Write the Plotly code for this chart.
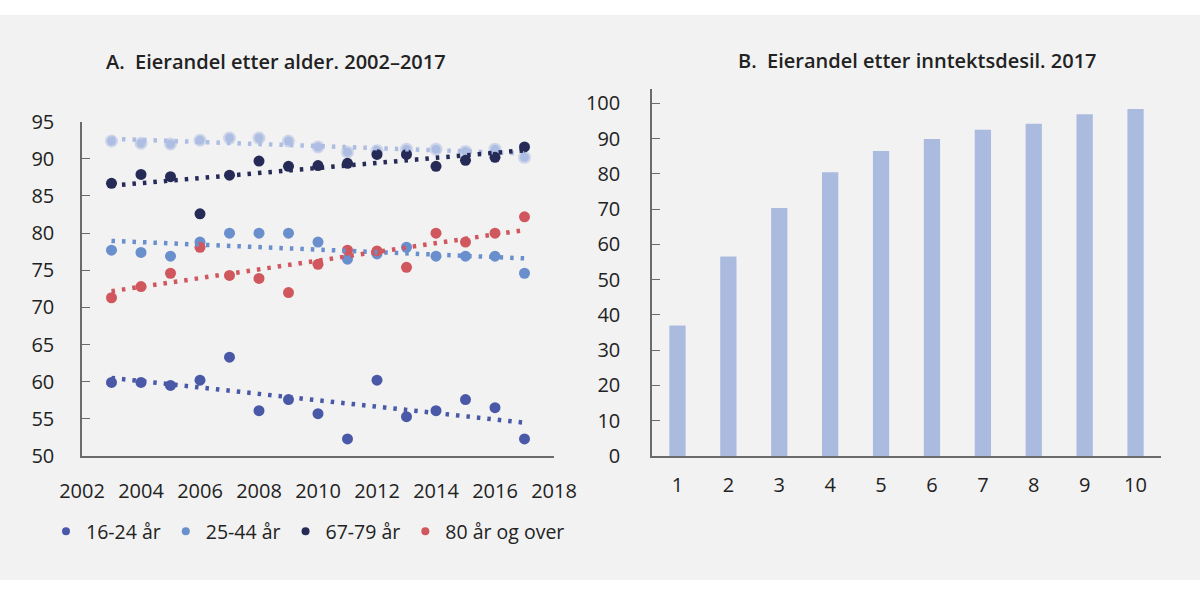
import numpy as np
import plotly.graph_objects as go

# Panel A: home-ownership share by age group, 2003-2017
years = list(range(2003, 2018))
age_16_24 = [59.9, 59.9, 59.5, 60.2, 63.3, 56.1, 57.6, 55.7, 52.3, 60.2, 55.3, 56.1, 57.6, 56.5, 52.3]
age_25_44 = [77.7, 77.4, 76.9, 78.8, 80.0, 80.0, 80.0, 78.8, 76.5, 77.2, 78.1, 76.9, 76.9, 76.9, 74.6]
age_45_66 = [92.4, 92.1, 92.0, 92.5, 92.8, 92.8, 92.4, 91.6, 90.9, 91.1, 91.3, 91.3, 91.0, 91.3, 90.2]
age_67_79 = [86.7, 87.9, 87.6, 82.6, 87.8, 89.7, 89.0, 89.1, 89.4, 90.6, 90.6, 89.0, 89.8, 90.2, 91.6]
age_80_up = [71.3, 72.8, 74.6, 78.1, 74.3, 73.9, 72.0, 75.8, 77.7, 77.6, 75.4, 80.0, 78.8, 80.0, 82.2]

# Panel B: home-ownership share by income decile, 2017
deciles = [str(d) for d in range(1, 11)]
decile_share = [37.0, 56.6, 70.3, 80.5, 86.5, 89.9, 92.5, 94.2, 96.9, 98.4]

BG = "#f2f2f2"
AXIS = "#6b6b6b"
TXT = "#222222"
FONT = "Open Sans"

series = [
    ("16-24 år", age_16_24, "#4a59a7", True),
    ("25-44 år", age_25_44, "#6a8fcd", True),
    ("45-66 år", age_45_66, "#aebde2", False),
    ("67-79 år", age_67_79, "#262a57", True),
    ("80 år og over", age_80_up, "#d0575d", True),
]

fig = go.Figure()

# data points
for name, vals, color, in_legend in series:
    if name == "45-66 år":
        marker = dict(size=9, color=color, line=dict(width=4, color="rgba(174,189,226,0.55)"))
    else:
        marker = dict(size=11, color=color, line=dict(width=0))
    fig.add_trace(go.Scatter(x=years, y=vals, mode="markers", marker=marker,
                             showlegend=False, xaxis="x", yaxis="y"))

# linear trend lines (dotted)
for name, vals, color, in_legend in series:
    k, m = np.polyfit(years, vals, 1)
    ends = [years[0], years[-1]]
    fig.add_trace(go.Scatter(x=ends, y=[k * x + m for x in ends], mode="lines",
                             line=dict(color=color, width=4.5, dash="3.5px,7px"),
                             showlegend=False, xaxis="x", yaxis="y"))

# legend entries (small dots)
for name, vals, color, in_legend in series:
    if in_legend:
        fig.add_trace(go.Scatter(x=[None], y=[None], mode="markers", name=name,
                                 marker=dict(size=8, color=color),
                                 xaxis="x", yaxis="y"))

fig.add_trace(go.Bar(x=deciles, y=decile_share, marker=dict(color="#abbbdf", line=dict(width=0)),
                     showlegend=False, xaxis="x2", yaxis="y2"))

tick_font = dict(family=FONT, size=20, color=TXT)

fig.update_layout(
    width=1200, height=595,
    margin=dict(l=0, r=0, t=0, b=0, autoexpand=False),
    paper_bgcolor=BG, plot_bgcolor=BG,
    font=dict(family=FONT, size=20, color=TXT),
    bargap=0.68,
    xaxis=dict(domain=[82 / 1200, 554 / 1200], range=[2002, 2018], dtick=2,
               showline=True, linecolor=AXIS, linewidth=1.5, showgrid=False,
               zeroline=False, ticks="", tickfont=tick_font, ticklabelstandoff=16,
               automargin=False),
    yaxis=dict(domain=[1 - 456 / 595, 1 - 121.7 / 595], range=[50, 95], dtick=5,
               showline=True, linecolor=AXIS, linewidth=1.5, showgrid=False,
               zeroline=False, ticks="inside", ticklen=8, tickcolor=AXIS,
               tickfont=tick_font, ticklabelstandoff=22, automargin=False),
    xaxis2=dict(domain=[652 / 1200, 1161 / 1200], anchor="y2", showline=True,
                linecolor=AXIS, linewidth=1.5, showgrid=False, ticks="",
                tickfont=tick_font, ticklabelstandoff=10, automargin=False),
    yaxis2=dict(domain=[1 - 456 / 595, 1 - 89.3 / 595], anchor="x2", range=[0, 104],
                tickvals=list(range(0, 101, 10)), showline=True, linecolor=AXIS,
                linewidth=1.5, showgrid=False, zeroline=False, ticks="inside",
                ticklen=8, tickcolor=AXIS, tickfont=tick_font, ticklabelstandoff=26,
                automargin=False),
    legend=dict(orientation="h", x=46 / 1200, y=1 - 531.5 / 595, xanchor="left",
                yanchor="middle", font=dict(family=FONT, size=19.5, color=TXT),
                bgcolor="rgba(0,0,0,0)", itemclick=False),
    shapes=[
        dict(type="rect", xref="paper", yref="paper", x0=0, x1=1, y0=1 - 15 / 595, y1=1,
             fillcolor="white", line=dict(width=0), layer="below"),
        dict(type="rect", xref="paper", yref="paper", x0=0, x1=1, y0=0, y1=15 / 595,
             fillcolor="white", line=dict(width=0), layer="below"),
    ],
    annotations=[
        dict(text="A.  Eierandel etter alder. 2002–2017", xref="paper", yref="paper",
             x=276 / 1200, y=1 - 61.5 / 595, showarrow=False, xanchor="center", yanchor="middle",
             font=dict(family=FONT, size=20, color=TXT, weight=600)),
        dict(text="B.  Eierandel etter inntektsdesil. 2017", xref="paper", yref="paper",
             x=917 / 1200, y=1 - 61 / 595, showarrow=False, xanchor="center", yanchor="middle",
             font=dict(family=FONT, size=20, color=TXT, weight=600)),
    ],
)

fig.write_html("out.html", config={"displayModeBar": False},
               post_script="document.body.style.margin = '0';")
